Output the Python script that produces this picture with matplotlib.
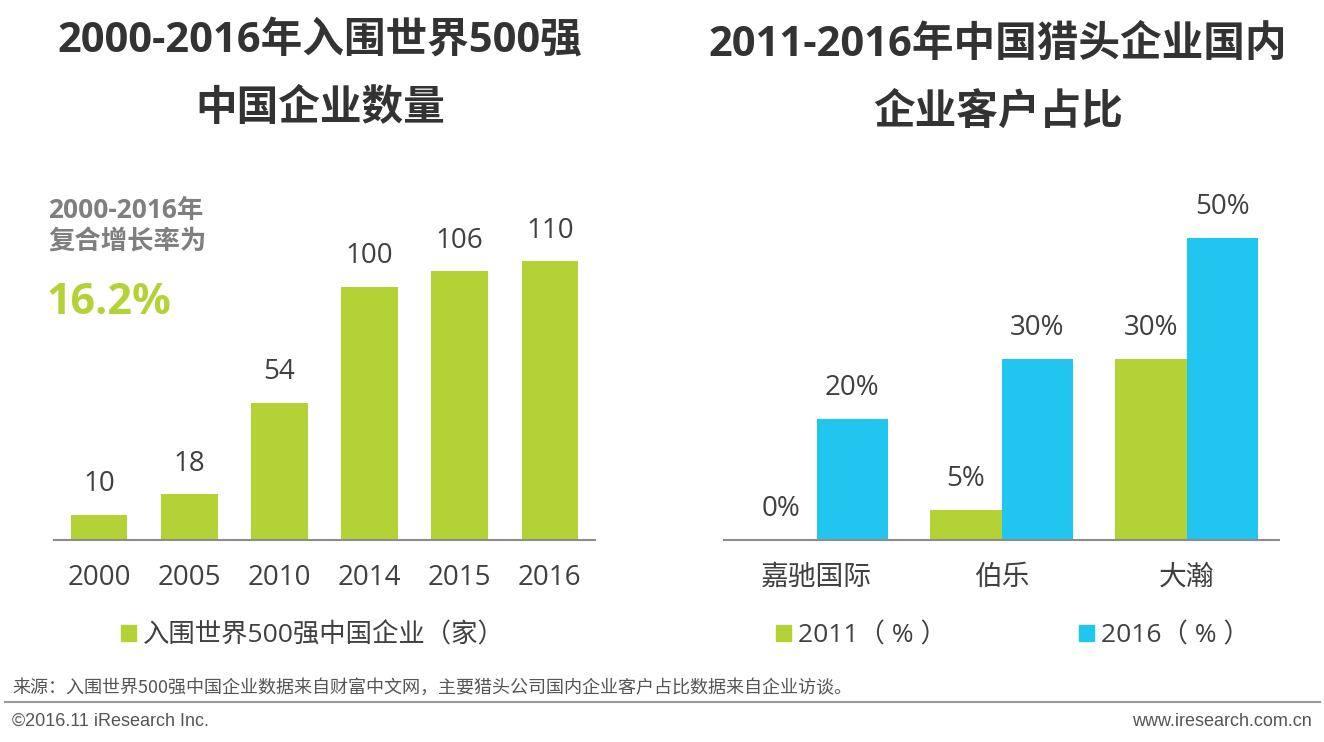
import numpy as np
import matplotlib.pyplot as plt
from matplotlib.patches import Patch

plt.rcParams['font.family'] = ['Open Sans', 'Noto Sans CJK SC', 'DejaVu Sans']

# 左图数据
years = ['2000', '2005', '2010', '2014', '2015', '2016']
counts = [10, 18, 54, 100, 106, 110]

# 右图数据
firms = ['嘉驰国际', '伯乐', '大瀚']
share_2011 = [0, 5, 30]
share_2016 = [20, 30, 50]

GREEN = '#B3D235'
BLUE = '#20C6EF'
TXT = '#404040'
W, H = 1324, 742


def px_axes(fig, x0, x1, ytop, ybot):
    return fig.add_axes([x0 / W, 1 - ybot / H, (x1 - x0) / W, (ybot - ytop) / H])


def clean(ax):
    for s in ['top', 'right', 'left']:
        ax.spines[s].set_visible(False)
    ax.spines['bottom'].set_color('#8c8c8c')
    ax.spines['bottom'].set_linewidth(1.5)
    ax.set_yticks([])
    ax.tick_params(axis='x', length=0, pad=17, labelsize=20, labelcolor=TXT)


fig = plt.figure(figsize=(W / 100, H / 100), dpi=100)

# ---- 左图
ax1 = px_axes(fig, 54, 595, 175, 540)
x = np.arange(len(years))
bars = ax1.bar(x, counts, width=0.63, color=GREEN)
ax1.set_xlim(-0.5, len(years) - 0.5)
ax1.set_ylim(0, 144)
ax1.set_xticks(x, years)
clean(ax1)
for b, v in zip(bars, counts):
    ax1.annotate(str(v), (b.get_x() + b.get_width() / 2, v), xytext=(0, 12),
                 textcoords='offset points', ha='center', va='bottom',
                 fontsize=20, color=TXT)

# ---- 右图
ax2 = px_axes(fig, 724, 1279, 175, 540)
g = np.arange(len(firms))
bw = 0.384
b11 = ax2.bar(g - bw / 2, share_2011, width=bw, color=GREEN)
b16 = ax2.bar(g + bw / 2, share_2016, width=bw, color=BLUE)
ax2.set_xlim(-0.5, 2.5)
ax2.set_ylim(0, 60.4)
ax2.set_xticks(g, firms)
clean(ax2)
for bs, vals in [(b11, share_2011), (b16, share_2016)]:
    for b, v in zip(bs, vals):
        ax2.annotate(f'{v}%', (b.get_x() + b.get_width() / 2, v), xytext=(0, 12),
                     textcoords='offset points', ha='center', va='bottom',
                     fontsize=20, color=TXT)

# ---- 标题
tkw = dict(ha='center', va='center', fontsize=30, fontweight='bold', color='#333333')
fig.text(320 / W, 1 - 42 / H, '2000-2016年入围世界500强', **tkw)
fig.text(320 / W, 1 - 110 / H, '中国企业数量', **tkw)
fig.text(998 / W, 1 - 45 / H, '2011-2016年中国猎头企业国内', **tkw)
fig.text(998 / W, 1 - 113 / H, '企业客户占比', **tkw)

# ---- 复合增长率注释
fig.text(48 / W, 1 - 210 / H, '2000-2016年', ha='left', va='center',
         fontsize=19, fontweight='bold', color='#7f7f7f')
fig.text(48 / W, 1 - 241 / H, '复合增长率为', ha='left', va='center',
         fontsize=19, fontweight='bold', color='#7f7f7f')
fig.text(46 / W, 1 - 302 / H, '16.2%', ha='left', va='center',
         fontsize=31, fontweight='bold', color=GREEN)

# ---- 图例
lkw = dict(frameon=False, fontsize=19, handlelength=0.57, handleheight=0.57,
           handletextpad=0.27, labelcolor=TXT, loc='center')
fig.legend(handles=[Patch(color=GREEN, label='入围世界500强中国企业（家）')],
           bbox_to_anchor=(313 / W, 1 - 636 / H), **lkw)
fig.legend(handles=[Patch(color=GREEN, label='2011（ % ）'),
                    Patch(color=BLUE, label='2016（ % ）')],
           ncol=2, columnspacing=5.0,
           bbox_to_anchor=(1013 / W, 1 - 636 / H), **lkw)

# ---- 页脚
fig.text(12 / W, 1 - 688 / H,
         '来源：入围世界500强中国企业数据来自财富中文网，主要猎头公司国内企业客户占比数据来自企业访谈。',
         ha='left', va='center', fontsize=13, color='#555555',
         family=['Noto Sans CJK SC', 'DejaVu Sans'])
fig.add_artist(plt.Line2D([5 / W, 1320 / W], [1 - 702 / H, 1 - 702 / H],
                          color='#9a9a9a', lw=1.5))
fig.text(12 / W, 1 - 721 / H, '©2016.11 iResearch Inc.', ha='left', va='center',
         fontsize=13, color='#555555', family=['Liberation Sans'])
fig.text(1312 / W, 1 - 721 / H, 'www.iresearch.com.cn', ha='right', va='center',
         fontsize=13, color='#555555', family=['Liberation Sans'])

fig.savefig('out.png', dpi=100)
